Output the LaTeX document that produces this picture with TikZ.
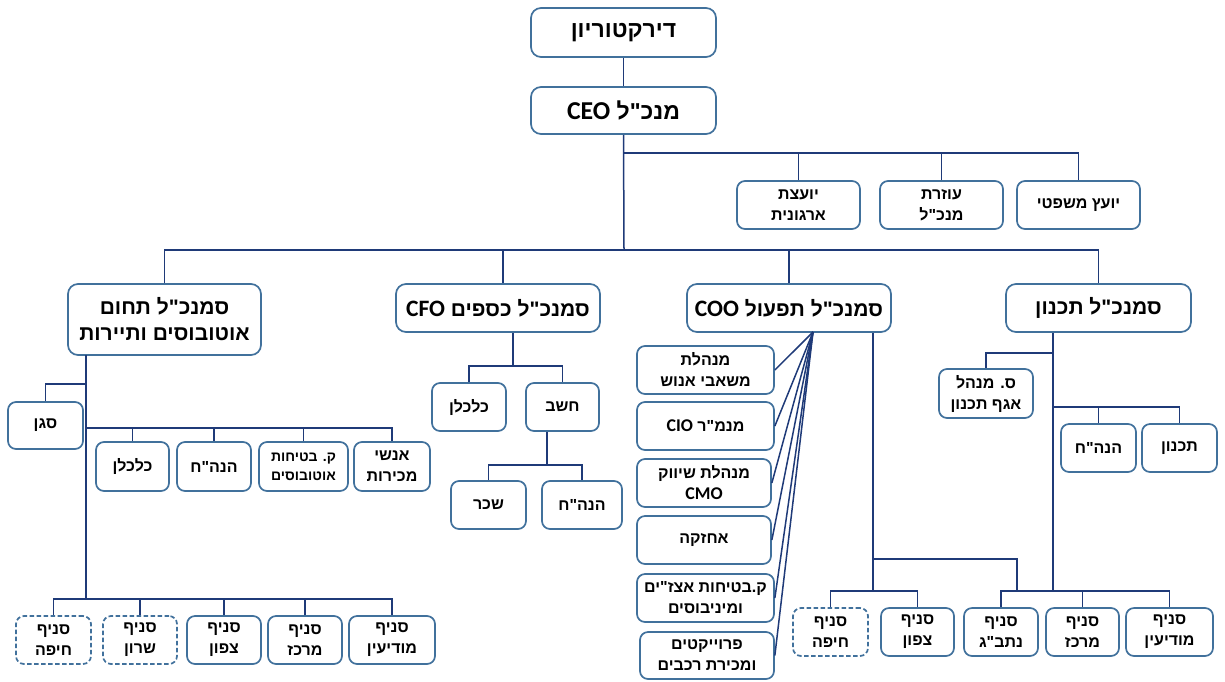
\documentclass[tikz,border=0pt]{standalone}
\usepackage{fontspec}
\setmainfont{Liberation Sans}
\newfontfamily\hebfont[Script=Hebrew]{Liberation Sans}
\newfontfamily\latfont[Scale=1.12]{Carlito}
\TeXXeTstate=1
\usetikzlibrary{calc}
% one right-to-left line, and a left-to-right run inside it
\newcommand\heb[1]{\beginR #1\endR}
\newcommand\lat[1]{\beginL{\latfont #1}\endL}
\definecolor{boxline}{HTML}{41719C}
\definecolor{wirecol}{HTML}{1F3A78}

\begin{document}
\begin{tikzpicture}[x=1pt,y=-1pt,
  unitbox/.style={draw=boxline, line width=1.7pt, rounded corners=8pt, fill=white,
    align=center, inner sep=0pt, text=black,
    font=\hebfont\bfseries\fontsize{16}{21}\selectfont},
  topbox/.style={unitbox, rounded corners=10pt,
    font=\hebfont\bfseries\fontsize{23}{28}\selectfont},
  headbox/.style={unitbox, rounded corners=10pt,
    font=\hebfont\bfseries\fontsize{21}{26}\selectfont},
  dashbox/.style={unitbox, dash pattern=on 4.5pt off 2.5pt},
  wireline/.style={draw=wirecol, line width=1.5pt},
]
\useasboundingbox (0,0) rectangle (1225,681);

% ---- board, CEO and staff ----
\node[topbox, minimum width=185, minimum height=49] (dir) at (623.5,32.5) {\heb{דירקטוריון}};
\node[topbox, minimum width=185, minimum height=47] (ceo) at (623.5,110.5) {\heb{מנכ"ל \lat{CEO}}};
\node[unitbox, minimum width=123, minimum height=48] (org) at (798.5,205) {\heb{יועצת}\\\heb{ארגונית}};
\node[unitbox, minimum width=123, minimum height=48] (asst) at (941.5,205) {\heb{עוזרת}\\\heb{מנכ"ל}};
\node[unitbox, minimum width=123, minimum height=48] (legal) at (1078.5,205) {\heb{יועץ משפטי}};

% ---- deputy CEOs ----
\node[headbox, minimum width=193, minimum height=71] (bus) at (164.5,319.5) {\heb{סמנכ"ל תחום}\\\heb{אוטובוסים ותיירות}};
\node[headbox, minimum width=204, minimum height=48] (cfo) at (498,308) {\heb{סמנכ"ל כספים \lat{CFO}}};
\node[headbox, minimum width=204, minimum height=48] (coo) at (789,308) {\heb{סמנכ"ל תפעול \lat{COO}}};
\node[headbox, minimum width=185, minimum height=48] (plan) at (1098.5,308) {\heb{סמנכ"ל תכנון}};

% ---- buses and tourism ----
\node[unitbox, minimum width=75, minimum height=47] (sagan) at (45.5,425.5) {\heb{סגן}};
\node[unitbox, minimum width=73, minimum height=49] (kalk1) at (132.5,466.5) {\heb{כלכלן}};
\node[unitbox, minimum width=74, minimum height=49] (hnh1) at (214,466.5) {\heb{הנה"ח}};
\node[unitbox, minimum width=89, minimum height=49, font=\hebfont\bfseries\fontsize{14}{19}\selectfont] (safe1) at (303.5,466.5) {\heb{ק. בטיחות}\\\heb{אוטובוסים}};
\node[unitbox, minimum width=76, minimum height=49] (sales) at (392,466.5) {\heb{אנשי}\\\heb{מכירות}};
\node[dashbox, minimum width=75, minimum height=48] (haifa1) at (53.5,640) {\heb{סניף}\\\heb{חיפה}};
\node[dashbox, minimum width=74, minimum height=48] (sharon) at (140,640) {\heb{סניף}\\\heb{שרון}};
\node[unitbox, minimum width=74, minimum height=48] (north1) at (224,640) {\heb{סניף}\\\heb{צפון}};
\node[unitbox, minimum width=74, minimum height=48] (center1) at (305,640) {\heb{סניף}\\\heb{מרכז}};
\node[unitbox, minimum width=86, minimum height=48] (modiin1) at (392,640) {\heb{סניף}\\\heb{מודיעין}};

% ---- finance ----
\node[unitbox, minimum width=74, minimum height=48] (kalk2) at (469,407) {\heb{כלכלן}};
\node[unitbox, minimum width=73, minimum height=48] (acct) at (562.5,407) {\heb{חשב}};
\node[unitbox, minimum width=75, minimum height=48] (payroll) at (488.5,505) {\heb{שכר}};
\node[unitbox, minimum width=80, minimum height=48] (hnh2) at (582,505) {\heb{הנה"ח}};

% ---- operations ----
\node[unitbox, minimum width=137, minimum height=48] (hr) at (705.5,370) {\heb{מנהלת}\\\heb{משאבי אנוש}};
\node[unitbox, minimum width=137, minimum height=48] (cio) at (705.5,426) {\heb{מנמ"ר \lat{CIO}}};
\node[unitbox, minimum width=134, minimum height=48] (cmo) at (704,483) {\heb{מנהלת שיווק}\\{\latfont CMO}};
\node[unitbox, minimum width=134, minimum height=48] (maint) at (704,540) {\heb{אחזקה}};
\node[unitbox, minimum width=137, minimum height=48] (safe2) at (705.5,598) {\heb{ק.בטיחות אצז"ים}\\\heb{ומיניבוסים}};
\node[unitbox, minimum width=134, minimum height=47] (proj) at (707,655.5) {\heb{פרוייקטים}\\\heb{ומכירת רכבים}};
\node[dashbox, minimum width=75, minimum height=48] (haifa2) at (830.5,632) {\heb{סניף}\\\heb{חיפה}};
\node[unitbox, minimum width=73, minimum height=48] (north2) at (917.5,632) {\heb{סניף}\\\heb{צפון}};

% ---- planning ----
\node[unitbox, minimum width=94, minimum height=49] (vp) at (986,393.5) {\heb{ס\kern0pt. מנהל}\\\heb{אגף תכנון}};
\node[unitbox, minimum width=75, minimum height=48] (hnh3) at (1098.5,448) {\heb{הנה"ח}};
\node[unitbox, minimum width=75, minimum height=48] (planner) at (1179.5,448) {\heb{תכנון}};
\node[unitbox, minimum width=74, minimum height=48] (airport) at (1001,632) {\heb{סניף}\\\heb{נתב"ג}};
\node[unitbox, minimum width=73, minimum height=48] (center2) at (1082.5,632) {\heb{סניף}\\\heb{מרכז}};
\node[unitbox, minimum width=87, minimum height=48] (modiin2) at (1169.5,632) {\heb{סניף}\\\heb{מודיעין}};

% ---- junction points ----
\coordinate (staff) at (624,153);
\coordinate (deputies) at (624,250);
\coordinate (cfoDrop) at (503,250);
\coordinate (busTop) at (86,355);
\coordinate (busDep) at (86,384);
\coordinate (busUnits) at (86,428);
\coordinate (busBranches) at (86,599);
\coordinate (cfoJ) at (513,366);
\coordinate (acctJ) at (547,465);
\coordinate (fan) at (813,332);
\coordinate (cooLink) at (873,559);
\coordinate (cooBranches) at (873,591);
\coordinate (linkEnd) at (1017,591);
\coordinate (planDep) at (1053,353);
\coordinate (planUnits) at (1053,407);
\coordinate (planBranches) at (1053,591);

% ---- connectors ----
\draw[wireline] (dir.south) -- (ceo.north);
\draw[wireline] (ceo.south) -- (deputies);
\draw[wireline] (staff) -| (legal.north);
\draw[wireline] (asst.north) -- (asst.north |- staff);
\draw[wireline] (org.north) -- (org.north |- staff);
\draw[wireline] (bus.north) |- (deputies) -| (plan.north);
\draw[wireline] (cfoDrop) -- (cfoDrop |- cfo.north);
\draw[wireline] (coo.north) -- (coo.north |- deputies);

\draw[wireline] (busTop) -- (busBranches);
\draw[wireline] (busDep) -| (sagan.north);
\draw[wireline] (busUnits) -| (sales.north);
\foreach \n in {kalk1,hnh1,safe1} \draw[wireline] (\n.north) -- (\n.north |- busUnits);
\draw[wireline] (haifa1.north) |- (busBranches) -| (modiin1.north);
\foreach \n in {sharon,north1,center1} \draw[wireline] (\n.north) -- (\n.north |- busBranches);

\draw[wireline] (cfoJ |- cfo.south) -- (cfoJ);
\draw[wireline] (kalk2.north) |- (cfoJ) -| (acct.north);
\draw[wireline] (acctJ |- acct.south) -- (acctJ);
\draw[wireline] (payroll.north) |- (acctJ) -| (hnh2.north);

\foreach \n in {hr,cio,cmo,maint,safe2,proj} \draw[wireline] (fan) -- (\n.east);
\draw[wireline] (cooBranches |- coo.south) -- (cooBranches);
\draw[wireline] (cooLink) -| (linkEnd);
\draw[wireline] (haifa2.north) |- (cooBranches) -| (north2.north);

\draw[wireline] (planBranches |- plan.south) -- (planBranches);
\draw[wireline] (planDep) -| (vp.north);
\draw[wireline] (planUnits) -| (planner.north);
\draw[wireline] (hnh3.north) -- (hnh3.north |- planUnits);
\draw[wireline] (airport.north) |- (planBranches) -| (modiin2.north);
\draw[wireline] (center2.north) -- (center2.north |- planBranches);
\end{tikzpicture}
\end{document}
